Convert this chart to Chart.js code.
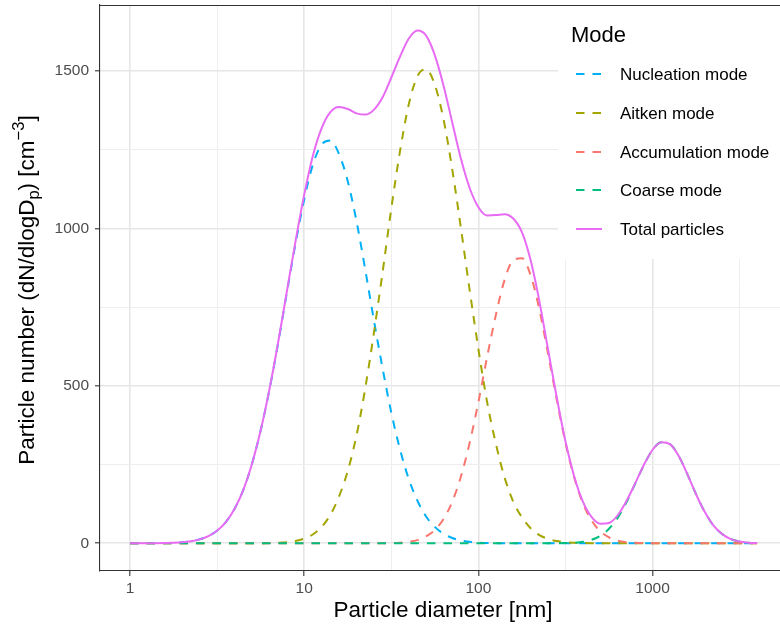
<!DOCTYPE html>
<html>
<head>
<meta charset="utf-8">
<script src="https://cdn.jsdelivr.net/npm/chart.js@4.4.1/dist/chart.umd.min.js"></script>
<style>
  body { margin: 0; background: #ffffff; }
  #wrap { width: 780px; height: 626px; }
</style>
</head>
<body>
<div id="wrap"><canvas id="psd" width="780" height="626"></canvas></div>
<script>
// particle diameter [nm], sampled every 0.05 decade
const diameters = [
  1, 1.12, 1.26, 1.41, 1.58, 1.78, 2, 2.24, 2.51, 2.82,
  3.16, 3.55, 3.98, 4.47, 5.01, 5.62, 6.31, 7.08, 7.94, 8.91,
  10, 11.2, 12.6, 14.1, 15.8, 17.8, 20, 22.4, 25.1, 28.2,
  31.6, 35.5, 39.8, 44.7, 50.1, 56.2, 63.1, 70.8, 79.4, 89.1,
  100, 112, 126, 141, 158, 178, 200, 224, 251, 282,
  316, 355, 398, 447, 501, 562, 631, 708, 794, 891,
  1000, 1122, 1259, 1413, 1585, 1778, 1995, 2239, 2512, 2818,
  3162, 3548, 3981
];

// dN/dlogDp [cm^-3] for each mode
const nucleation = [
  0, 0, 0.1, 0.3, 0.7, 1.5, 3.2, 6.5, 12.4, 22.7,
  40, 67.5, 109, 169, 251, 357, 486, 634, 793, 950,
  1091, 1201, 1266, 1279, 1238, 1149, 1021, 870, 710, 555,
  416, 298, 205, 135, 85, 52, 30, 16.7, 8.9, 4.5,
  2.2, 1, 0.5, 0.2, 0, 0, 0, 0, 0, 0,
  0, 0, 0, 0, 0, 0, 0, 0, 0, 0,
  0, 0, 0, 0, 0, 0, 0, 0, 0, 0,
  0, 0, 0
];
const aitken = [
  0, 0, 0, 0, 0, 0, 0, 0, 0, 0,
  0, 0, 0, 0, 0.1, 0.3, 0.7, 1.6, 3.5, 7.4,
  15, 28, 52, 89, 147, 230, 344, 491, 666, 861,
  1061, 1245, 1392, 1483, 1505, 1456, 1346, 1187, 1000, 804,
  617, 451, 316, 211, 134, 82, 47, 26, 14, 7,
  3.4, 1.6, 0.7, 0.3, 0, 0, 0, 0, 0, 0,
  0, 0, 0, 0, 0, 0, 0, 0, 0, 0,
  0, 0, 0
];
const accumulation = [
  0, 0, 0, 0, 0, 0, 0, 0, 0, 0,
  0, 0, 0, 0, 0, 0, 0, 0, 0, 0,
  0, 0, 0, 0, 0, 0, 0, 0, 0, 0.3,
  0.8, 1.9, 4.6, 10, 22, 42, 77, 132, 212, 319,
  448, 589, 725, 834, 898, 905, 849, 742, 602, 455,
  320, 209, 127, 72, 38, 18.5, 8.4, 3.6, 1.4, 0.5,
  0.2, 0, 0, 0, 0, 0, 0, 0, 0, 0,
  0, 0, 0
];
const coarse = [
  0, 0, 0, 0, 0, 0, 0, 0, 0, 0,
  0, 0, 0, 0, 0, 0, 0, 0, 0, 0,
  0, 0, 0, 0, 0, 0, 0, 0, 0, 0,
  0, 0, 0, 0, 0, 0, 0, 0, 0, 0,
  0, 0, 0, 0, 0, 0, 0, 0, 0.1, 0.2,
  0.6, 1.8, 4.6, 11, 24, 46, 81, 130, 189, 248,
  297, 321, 315, 277, 219, 155, 99, 56, 29, 13,
  5.5, 2, 0.7
];
const total = [
  0, 0, 0.1, 0.3, 0.7, 1.5, 3.2, 6.5, 12.4, 22.7,
  40, 67.5, 109, 169, 251, 357, 487, 636, 797, 957,
  1106, 1229, 1318, 1368, 1385, 1379, 1365, 1361, 1376, 1416,
  1478, 1545, 1602, 1628, 1612, 1550, 1453, 1336, 1221, 1128,
  1067, 1041, 1042, 1045, 1032, 987, 896, 768, 616, 462,
  324, 212, 132, 83, 62, 64.5, 89, 134, 190, 248.5,
  297, 321, 315, 277, 219, 155, 99, 56, 29, 13,
  5.5, 2, 0.7
];

const xTicks = [1, 3.1623, 10, 31.623, 100, 316.23, 1000, 3162.3];
const xLabels = ["1", "", "10", "", "100", "", "1000", ""];
const yTicks = [0, 250, 500, 750, 1000, 1250, 1500];
const yLabels = ["0", "", "500", "", "1000", "", "1500"];

const modeNames = ["Nucleation mode", "Aitken mode", "Accumulation mode", "Coarse mode", "Total particles"];
const modeColors = ["#00B0F6", "#A3A500", "#F8766D", "#00BF7D", "#E76BF3"];
const modeSeries = [nucleation, aitken, accumulation, coarse, total];

const FONT = "'Liberation Sans', Arial, sans-serif";
const DASH = [8.5, 8];

function toPoints(values) {
  return diameters.map((d, i) => ({ x: d, y: values[i] }));
}

function buildDatasets() {
  //later modes on top, total line drawn last
  return modeSeries.map((values, i) => ({
    label: modeNames[i],
    data: toPoints(values),
    borderColor: modeColors[i],
    borderWidth: 2,
    borderDash: i < 4 ? DASH : [],
    pointRadius: 0,
    fill: false,
    cubicInterpolationMode: "monotone",
    order: modeSeries.length - 1 - i,
  }));
}

// axis titles, legend and panel border drawn on top of the chart
const decorPlugin = {
  id: "decor",
  afterDraw(chart) {
    const ctx = chart.ctx;
    const area = chart.chartArea;
    ctx.save();

    // x title
    ctx.fillStyle = "#000000";
    ctx.font = "22.5px " + FONT;
    ctx.textAlign = "center";
    ctx.textBaseline = "alphabetic";
    ctx.fillText("Particle diameter [nm]", 443, 617);

    // y title with sub/superscript
    const parts = [
      { t: "Particle number (dN/dlogD", size: 22.5, dy: 0 },
      { t: "p", size: 16.5, dy: 5 },
      { t: ") [cm", size: 22.5, dy: 0 },
      { t: "\u22123", size: 16.5, dy: -10 },
      { t: "]", size: 22.5, dy: 0 },
    ];
    let width = 0;
    parts.forEach((p) => {
      ctx.font = p.size + "px " + FONT;
      p.w = ctx.measureText(p.t).width;
      width += p.w;
    });
    ctx.translate(34, 290);
    ctx.rotate(-Math.PI / 2);
    ctx.textAlign = "left";
    let pos = -width / 2;
    parts.forEach((p) => {
      ctx.font = p.size + "px " + FONT;
      ctx.fillText(p.t, pos, p.dy);
      pos += p.w;
    });
    ctx.setTransform(1, 0, 0, 1, 0, 0);

    // legend box inside the panel
    ctx.fillStyle = "#ffffff";
    ctx.fillRect(558, area.top + 1, 222, 253);
    ctx.fillStyle = "#000000";
    ctx.font = "22px " + FONT;
    ctx.textAlign = "left";
    ctx.fillText("Mode", 571, 42);
    const rows = [74, 113, 152, 190, 229];
    ctx.font = "17px " + FONT;
    ctx.textBaseline = "middle";
    rows.forEach((y, i) => {
      ctx.strokeStyle = modeColors[i];
      ctx.lineWidth = 2;
      ctx.setLineDash(i < 4 ? DASH : []);
      ctx.beginPath();
      ctx.moveTo(576, y);
      ctx.lineTo(602, y);
      ctx.stroke();
      ctx.setLineDash([]);
      ctx.fillStyle = "#000000";
      ctx.fillText(modeNames[i], 620, y + 1);
    });

    // top edge of the panel border
    ctx.strokeStyle = "#333333";
    ctx.lineWidth = 1.1;
    ctx.beginPath();
    ctx.moveTo(area.left, area.top + 0.5);
    ctx.lineTo(area.right, area.top + 0.5);
    ctx.stroke();
    ctx.restore();
  },
};

function gridStyle() {
  //major lines on even tick indexes, minor ones between
  return {
    color: (c) => (c.index % 2 === 0 ? "#E6E6E6" : "#EEEEEE"),
    lineWidth: (c) => (c.index % 2 === 0 ? 1.6 : 1),
    tickLength: 5,
    tickWidth: 1.1,
    tickColor: (c) => (c.index % 2 === 0 ? "#333333" : "rgba(0,0,0,0)"),
  };
}

function makeChart() {
  const ctx = document.querySelector("#psd").getContext("2d");
  new Chart(ctx, {
    type: "line",
    data: { datasets: buildDatasets() },
    plugins: [decorPlugin],
    options: {
      responsive: false,
      animation: false,
      layout: { padding: { top: 5, left: 0, right: 0, bottom: 0 } },
      plugins: { legend: { display: false }, tooltip: { enabled: false } },
      scales: {
        x: {
          type: "logarithmic",
          min: 0.673,
          max: 5387,
          afterBuildTicks: (scale) => { scale.ticks = xTicks.map((v) => ({ value: v })); },
          afterFit: (scale) => {
            scale.height = 55;
            scale.paddingLeft = 0;
            scale.paddingRight = 0;
          },
          ticks: {
            autoSkip: false,
            maxRotation: 0,
            padding: 3,
            color: "#4D4D4D",
            font: { family: FONT, size: 15.5 },
            callback: (value, index) => xLabels[index],
          },
          grid: gridStyle(),
          border: { display: true, color: "#333333", width: 1.1 },
        },
        y: {
          type: "linear",
          min: -88,
          max: 1709,
          afterBuildTicks: (scale) => { scale.ticks = yTicks.map((v) => ({ value: v })); },
          afterFit: (scale) => {
            scale.width = 100;
            scale.paddingTop = 0;
            scale.paddingBottom = 0;
          },
          ticks: {
            autoSkip: false,
            padding: 6,
            color: "#4D4D4D",
            font: { family: FONT, size: 15.5 },
            callback: (value, index) => yLabels[index],
          },
          grid: gridStyle(),
          border: { display: true, color: "#333333", width: 1.1 },
        },
      },
    },
  });
}

document.addEventListener("DOMContentLoaded", makeChart);
</script>
</body>
</html>
